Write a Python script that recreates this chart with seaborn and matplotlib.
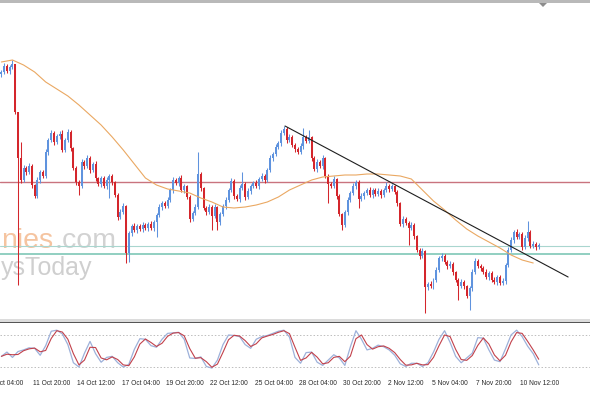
import numpy as np
import pandas as pd
import matplotlib
matplotlib.use("Agg")
import matplotlib.pyplot as plt
import seaborn as sns
from matplotlib.patches import Rectangle, Polygon

# H4 candles, closes in chart points (first bar = 9 Oct)
closes = [
    248, 254, 249, 253, 256, 208, 162, 140, 152, 148,
    154, 135, 124, 140, 148, 144, 168, 180, 187, 178,
    184, 186, 170, 180, 188, 172, 152, 138, 134, 158,
    154, 162, 150, 156, 142, 136, 142, 134, 140, 144,
    138, 125, 103, 108, 114, 67, 87, 94, 90, 94,
    91, 95, 92, 96, 92, 98, 105, 113, 117, 114,
    120, 130, 140, 137, 142, 130, 134, 123, 101, 107,
    113, 146, 132, 112, 108, 113, 104, 113, 98, 106,
    114, 120, 130, 139, 124, 121, 132, 136, 123, 129,
    134, 137, 134, 141, 144, 140, 150, 162, 166, 173,
    177, 187, 191, 180, 183, 175, 171, 168, 174, 183,
    179, 183, 162, 151, 158, 154, 162, 144, 136, 134,
    141, 124, 106, 95, 108, 120, 127, 134, 138, 121,
    124, 127, 130, 125, 130, 126, 129, 125, 130, 134,
    131, 134, 128, 117, 96, 101, 97, 92, 95, 84,
    70, 64, 69, 33, 36, 34, 40, 50, 62, 64,
    58, 54, 56, 48, 40, 34, 38, 34, 24, 32,
    48, 59, 54, 52, 48, 43, 47, 40, 38, 43,
    37, 39, 55, 70, 80, 88, 83, 86, 73, 82,
    88, 74, 76, 73, 75,
]
first_open = 246

# wick length above / below the body
wick_up = [
    2, 3, 2, 2, 4, 0, 0, 16, 3, 2, 3, 2, 1, 3, 2, 2, 3, 2, 3, 2,
    2, 3, 4, 2, 3, 2, 1, 2, 2, 3, 2, 3, 2, 2, 3, 1, 2, 2, 3, 2,
    2, 1, 2, 3, 3, 1, 2, 2, 3, 2, 2, 3, 2, 2, 3, 2, 2, 3, 2, 2,
    3, 2, 3, 2, 2, 3, 2, 1, 2, 2, 3, 22, 2, 1, 2, 3, 2, 3, 1, 2,
    2, 3, 2, 3, 2, 2, 3, 12, 2, 3, 2, 2, 3, 2, 3, 2, 2, 3, 2, 3,
    2, 3, 3, 2, 3, 2, 2, 2, 3, 9, 2, 7, 1, 2, 3, 2, 3, 1, 2, 2,
    3, 1, 2, 1, 2, 3, 2, 3, 2, 2, 3, 2, 2, 3, 2, 2, 3, 2, 2, 4,
    2, 2, 1, 2, 1, 3, 2, 2, 3, 2, 1, 2, 3, 1, 2, 3, 2, 3, 2, 3,
    2, 2, 3, 2, 1, 2, 3, 2, 1, 2, 3, 3, 2, 2, 2, 3, 2, 2, 3, 2,
    2, 3, 2, 3, 3, 2, 3, 2, 2, 3, 11, 2, 3, 2, 2,
]
wick_dn = [
    3, 2, 2, 3, 2, 2, 127, 3, 2, 3, 2, 3, 2, 2, 3, 2, 2, 3, 2, 3,
    2, 3, 2, 2, 2, 3, 2, 3, 9, 2, 3, 2, 3, 2, 3, 2, 3, 2, 3, 18,
    3, 2, 3, 2, 2, 10, 9, 3, 2, 3, 2, 3, 2, 3, 2, 3, 15, 2, 3, 2,
    2, 2, 3, 2, 3, 2, 3, 2, 3, 2, 2, 2, 3, 2, 3, 2, 14, 2, 8, 3,
    2, 3, 2, 2, 3, 2, 3, 2, 3, 2, 3, 2, 2, 3, 2, 3, 2, 2, 3, 2,
    2, 3, 2, 3, 2, 2, 3, 2, 2, 3, 2, 2, 3, 2, 3, 2, 3, 2, 19, 2,
    2, 3, 2, 5, 2, 3, 2, 2, 3, 9, 2, 3, 2, 2, 3, 2, 2, 3, 2, 2,
    3, 2, 2, 3, 2, 3, 2, 17, 2, 3, 2, 3, 2, 26, 3, 2, 3, 2, 2, 3,
    2, 3, 2, 3, 2, 14, 2, 3, 2, 14, 3, 2, 2, 3, 2, 2, 3, 2, 2, 3,
    2, 2, 3, 2, 2, 3, 2, 2, 3, 2, 3, 2, 2, 3, 2,
]

# moving average, read every 4th bar
ma_values = [
    258, 260, 255, 248, 238, 231, 224, 215, 205, 195,
    183, 170, 156, 142, 135, 131, 129, 127, 122, 118,
    113, 112, 113, 115, 118, 123, 130, 135, 140, 143,
    144, 145, 145, 146, 146, 145, 144, 141, 130, 119,
    110, 100, 91, 84, 78, 72, 65, 60, 57,
]
ma_step = 4

# stochastic %K, read every 2nd bar
stoch_k = [
    40, 48, 38, 49, 52, 56, 55, 42, 60, 87,
    89, 82, 62, 28, 20, 46, 68, 45, 29, 38,
    40, 28, 20, 25, 53, 73, 72, 60, 57, 72,
    83, 84, 85, 72, 37, 36, 39, 21, 18, 33,
    62, 80, 79, 77, 62, 55, 72, 77, 79, 83,
    87, 89, 76, 38, 27, 47, 48, 29, 23, 33,
    43, 37, 23, 58, 88, 72, 52, 55, 61, 58,
    52, 42, 26, 21, 27, 27, 21, 28, 48, 72,
    88, 66, 40, 28, 37, 46, 75, 74, 52, 33,
    30, 54, 80, 89, 77, 59, 45, 24,
]
stoch_step = 2
stoch_levels = [20, 80]

resistance = 138
support_hi = 74.5
support_lo = 66
trend_bars = [102.4, 204.6]
trend_prices = [194, 43]

tick_bars = [-5, 11, 27, 43, 59, 75, 91, 107, 123, 139, 155, 171, 187]
tick_labels = ["9 Oct 04:00", "11 Oct 20:00", "14 Oct 12:00", "17 Oct 04:00",
               "19 Oct 20:00", "22 Oct 12:00", "25 Oct 04:00", "28 Oct 04:00",
               "30 Oct 20:00", "2 Nov 12:00", "5 Nov 04:00", "7 Nov 20:00",
               "10 Nov 12:00"]

BLUE = "#5f93de"
RED = "#d4262c"

sns.set_style("white")
plt.rcParams["font.family"] = ["Liberation Sans", "DejaVu Sans"]

W, H = 590, 393
fig = plt.figure(figsize=(5.9, 3.93), dpi=100)
fig.patch.set_facecolor("white")


def fy(py):
    return 1 - py / H


ax = fig.add_axes([0, fy(319), 1, fy(4) - fy(319)])
ax2 = fig.add_axes([0, fy(377.7), 1, fy(324.3) - fy(377.7)])

# candles
n = len(closes)
idx = np.arange(n)
c = np.array(closes, dtype=float)
o = np.r_[first_open, c[:-1]]
top = np.maximum(o, c)
bot = np.minimum(o, c)
hi = top + np.array(wick_up)
lo = bot - np.array(wick_dn)
cols = np.where(c >= o, BLUE, RED)
ax.vlines(idx, lo, hi, colors=cols, lw=0.75, zorder=3)
ax.bar(idx, np.maximum(top - bot, 0.8), bottom=bot, width=0.72,
       color=cols, lw=0, zorder=4)

ma_x = np.arange(0, n, ma_step)[:len(ma_values)]
sns.lineplot(x=ma_x, y=ma_values, ax=ax, color="#eaa862", lw=0.8, zorder=5)
ax.plot(trend_bars, trend_prices, color="#1e1e1e", lw=0.8, zorder=6)

ax.axhline(resistance, color="#c9737e", lw=1.0, zorder=2)
ax.axhline(support_hi, color="#a9d6cf", lw=0.8, zorder=2)
ax.axhline(support_lo, color="#7ec7b6", lw=1.2, zorder=2)

# watermark
ax.text(1 / W, fy(248), "nies", transform=fig.transFigure, fontsize=20.5,
        color="#f5c4a0", va="baseline", ha="left", zorder=1)
ax.text(54 / W, fy(248), ".com", transform=fig.transFigure, fontsize=20.5,
        color="#d2d2d2", va="baseline", ha="left", zorder=1)
ax.text(1 / W, fy(275), "ysToday", transform=fig.transFigure, fontsize=18,
        color="#cfcfcf", va="baseline", ha="left", zorder=1)

ax.set_xlim(-0.5, 212.5)
ax.set_ylim(1, 316)
ax.set_axis_off()

# stochastic
k = pd.Series(stoch_k, dtype=float)
d = k.rolling(2, min_periods=1).mean()
sx = np.arange(0, n, stoch_step)[:len(k)]
for lv in stoch_levels:
    ax2.axhline(lv, color="#bdbdbd", lw=0.7, ls=(0, (1.5, 2)), zorder=1)
sns.lineplot(x=sx, y=k.values, ax=ax2, color="#9db1da", lw=0.9, zorder=3)
sns.lineplot(x=sx, y=d.values, ax=ax2, color="#c2414b", lw=0.8, zorder=4)
ax2.set_xlim(-0.5, 212.5)
ax2.set_ylim(0, 100)
for s in ax2.spines.values():
    s.set_visible(False)
ax2.set_yticks([])
ax2.set_xticks([t for t in tick_bars if t >= 0])
ax2.set_xticklabels([])
ax2.tick_params(axis="x", length=2.5, width=0.6, color="#555555", direction="out")
ax2.set_xlabel("")
for tb, lab in zip(tick_bars, tick_labels):
    ax2.text(tb + 0.4, -0.1, lab, transform=ax2.get_xaxis_transform(),
             fontsize=4.8, color="#2a2a2a", ha="left", va="center", clip_on=False)

# frame pieces
fig.add_artist(Rectangle((0, fy(3)), 1, 3 / H, transform=fig.transFigure,
                         color="#b9b9b9", lw=0))
fig.add_artist(Rectangle((0, fy(321.5)), 1, 2.5 / H, transform=fig.transFigure,
                         color="#dcdcdc", lw=0))
fig.add_artist(Rectangle((0, fy(323)), 1, 1.5 / H, transform=fig.transFigure,
                         color="#555555", lw=0))
fig.add_artist(Polygon([(539 / W, fy(3)), (547 / W, fy(3)), (543 / W, fy(7))],
                       closed=True, transform=fig.transFigure, color="#8c8c8c", lw=0))

fig.savefig("out.png", dpi=100)
